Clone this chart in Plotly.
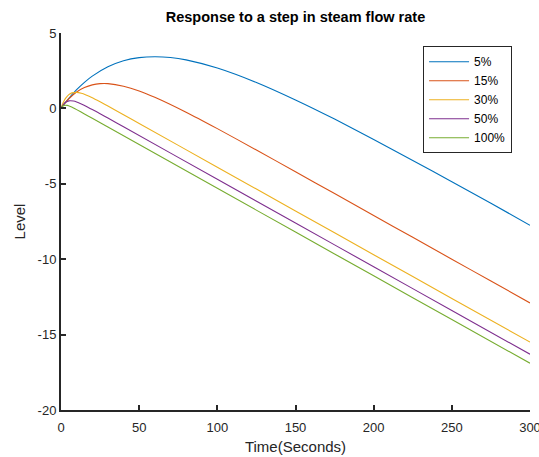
import plotly.graph_objects as go

# Values
t_blue = [0, 2, 5, 10, 15, 20, 30, 40, 50, 60, 70, 80, 100, 125, 150, 175, 200, 225, 250, 275, 300]
v_blue = [0, 0.28, 0.67, 1.24, 1.73, 2.14, 2.76, 3.16, 3.37, 3.43, 3.38, 3.22, 2.68, 1.72, 0.56, -0.71, -2.06, -3.45, -4.86, -6.29, -7.75]

t_red = [0, 2, 5, 10, 15, 20, 25, 30, 40, 50, 60, 80, 100, 125, 150, 175, 200, 225, 250, 275, 300]
v_red = [0, 0.28, 0.64, 1.09, 1.38, 1.56, 1.64, 1.64, 1.47, 1.16, 0.74, -0.25, -1.34, -2.76, -4.20, -5.65, -7.10, -8.55, -10.0, -11.45, -12.9]

t_yel = [0, 1, 2, 3, 5, 7, 10, 13, 16, 20, 25, 30, 40, 50, 100, 150, 200, 250, 300]
v_yel = [0, 0.29, 0.51, 0.68, 0.91, 1.03, 1.06, 1.00, 0.89, 0.71, 0.44, 0.16, -0.42, -1.0, -3.9, -6.8, -9.7, -12.6, -15.5]

t_pur = [0, 1, 2, 3, 4, 5, 6, 8, 10, 13, 16, 20, 25, 30, 40, 100, 150, 200, 250, 300]
v_pur = [0, 0.19, 0.32, 0.41, 0.46, 0.50, 0.51, 0.49, 0.43, 0.30, 0.15, -0.07, -0.35, -0.64, -1.22, -4.7, -7.6, -10.5, -13.4, -16.3]

t_grn = [0, 0.5, 1, 2, 3, 4, 6, 8, 10, 15, 20, 30, 100, 150, 200, 250, 300]
v_grn = [0, 0.08, 0.14, 0.20, 0.21, 0.20, 0.13, 0.03, -0.08, -0.37, -0.66, -1.24, -5.3, -8.2, -11.1, -14.0, -16.9]

series = [
    ("5%", t_blue, v_blue, "#0072BD"),
    ("15%", t_red, v_red, "#D95319"),
    ("30%", t_yel, v_yel, "#EDB120"),
    ("50%", t_pur, v_pur, "#7E2F8E"),
    ("100%", t_grn, v_grn, "#77AC30"),
]

x_ticks = [0, 50, 100, 150, 200, 250, 300]
y_ticks = [5, 0, -5, -10, -15, -20]
y_ticktext = ["5", "0", "-5", "-10", "-15", "-20"]

FONT = "Liberation Sans, Arial, sans-serif"
AX = "#262626"

fig = go.Figure()
for name, t, v, c in series:
    fig.add_trace(go.Scatter(x=t, y=v, name=name, mode="lines",
                             line=dict(color=c, width=1.1, shape="spline", smoothing=0.6)))

fig.update_layout(
    width=539, height=457,
    margin=dict(l=61, r=9, t=33, b=47),
    paper_bgcolor="white", plot_bgcolor="white",
    font=dict(family=FONT, color=AX, size=13),
    title=dict(text="<b>Response to a step in steam flow rate</b>", x=(61 + 530) / 2 / 539,
               xanchor="center", y=1 - 17 / 457, yanchor="middle",
               font=dict(size=14.5, color="black", family=FONT)),
    showlegend=True,
    legend=dict(x=0.772, y=0.965, xanchor="left", yanchor="top",
                bgcolor="white", bordercolor=AX, borderwidth=1,
                font=dict(size=12, color="black", family=FONT),
                itemwidth=40, tracegroupgap=0),
)
fig.update_xaxes(range=[0, 300], tickvals=x_ticks, ticktext=[str(v) for v in x_ticks],
                 showline=True, linecolor=AX, linewidth=2, ticks="inside", ticklen=5,
                 tickwidth=1.5, tickcolor=AX, showgrid=False, zeroline=False, mirror=False,
                 ticklabeloverflow="allow", ticklabelstandoff=4, automargin=False,
                 title=dict(text="Time(Seconds)", font=dict(size=15, color=AX), standoff=8),
                 tickfont=dict(size=13, color=AX))
fig.update_yaxes(range=[-20, 5], tickvals=y_ticks, ticktext=y_ticktext,
                 showline=True, linecolor=AX, linewidth=2, ticks="inside", ticklen=5,
                 tickwidth=1.5, tickcolor=AX, showgrid=False, zeroline=False, mirror=False,
                 ticklabeloverflow="allow", automargin=False,
                 title=dict(text="Level", font=dict(size=15, color=AX), standoff=8),
                 tickfont=dict(size=13, color=AX))

fig.write_html("out.html")
